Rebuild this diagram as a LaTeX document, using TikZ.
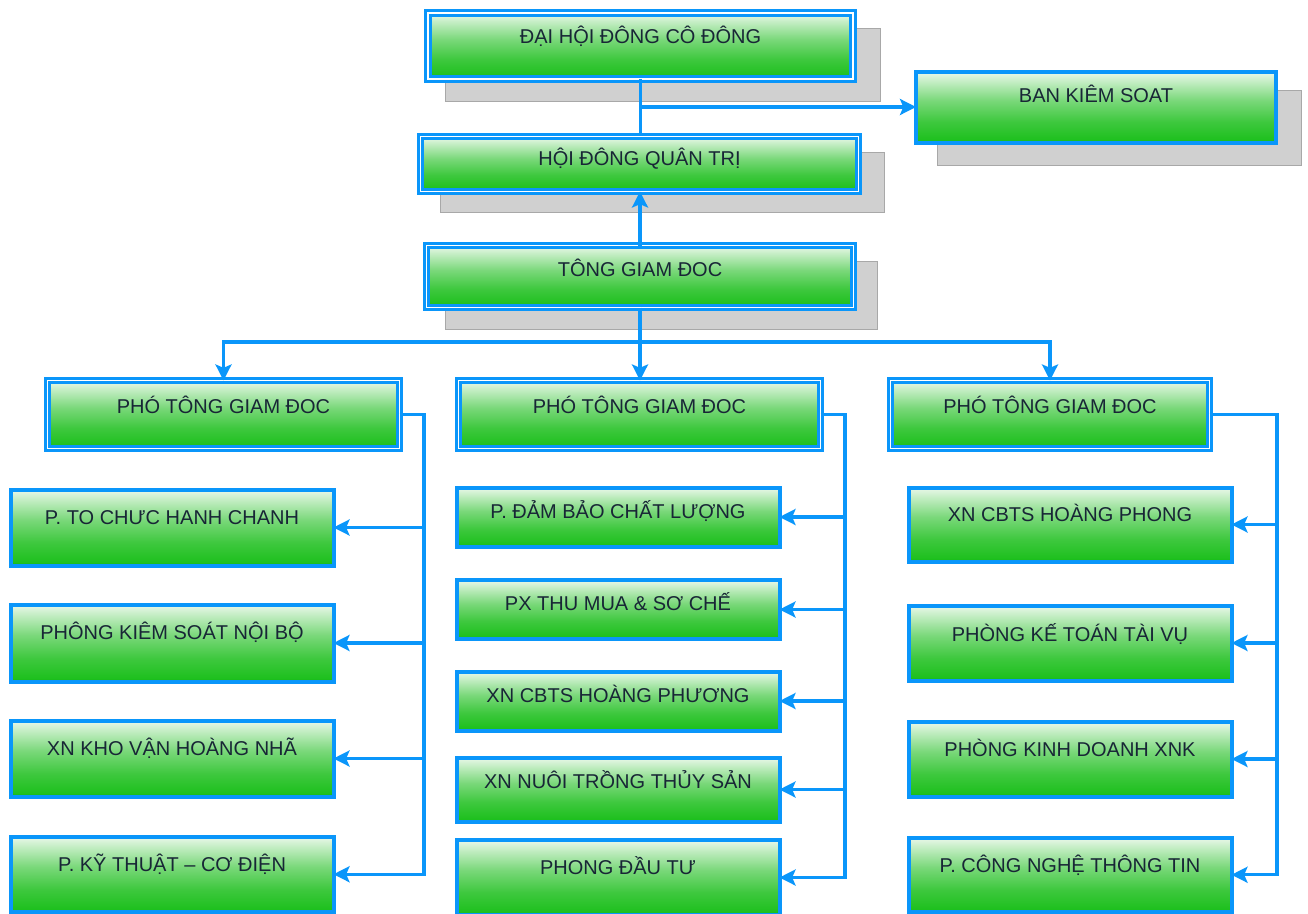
\documentclass[tikz,border=0pt]{standalone}
\usepackage{fontspec}
\setmainfont{Liberation Sans}
\usetikzlibrary{arrows.meta}
\definecolor{bblue}{RGB}{10,150,250}
\definecolor{tcol}{RGB}{24,38,54}
\definecolor{shgray}{RGB}{208,208,208}
\definecolor{shline}{RGB}{168,168,168}
\definecolor{gA}{RGB}{20,176,20}
\definecolor{gB}{RGB}{30,192,30}
\definecolor{gC}{RGB}{62,200,62}
\definecolor{gD}{RGB}{122,216,122}
\definecolor{gE}{RGB}{194,237,194}
\definecolor{gF}{RGB}{234,248,234}
\pgfdeclareverticalshading{greenbox}{100bp}{color(0bp)=(gA); color(25bp)=(gA); color(27bp)=(gB); color(40bp)=(gC); color(55bp)=(gD); color(68bp)=(gE); color(75bp)=(gF); color(100bp)=(gF)}
\newcommand\orgbox[8]{%
  \pgfmathsetmacro\obw{(#5-#3)*0.75}%
  \pgfmathsetmacro\obt{#7*0.75}%
  \pgfmathsetmacro\obd{(#6-#4-#7)*0.75}%
  \node[#2, minimum width=\obw pt, text height=\obt pt, text depth=\obd pt, anchor=north west] (#1) at (#3,#4) {#8};}
\tikzset{
  sbox/.style={draw=bblue, line width=3pt, shading=greenbox, inner sep=0pt, outer sep=0pt,
    font=\fontsize{15}{18}\selectfont, text=tcol},
  dbox/.style={sbox, line width=2.1pt, double=white, double distance=1.3pt},
  shadowbox/.style={fill=shgray, draw=shline, line width=0.6pt},
  cline/.style={draw=bblue, line width=2.6pt},
  arr/.style={cline, -{Stealth[length=12pt,width=12pt,inset=2.5pt]}}
}
\begin{document}
\begin{tikzpicture}[x=0.75pt, y=-0.75pt]
\useasboundingbox (0,0) rectangle (1308,913);
% shadows
\draw[shadowbox] (445,28) rectangle (880,101);
\draw[shadowbox] (937,90) rectangle (1301,165);
\draw[shadowbox] (440,152) rectangle (884,212);
\draw[shadowbox] (445,261) rectangle (877,329);
% top boxes
\orgbox{dh}{dbox}{428}{13}{853}{79}{31}{ĐẠI HỘI ĐÔNG CÔ ĐÔNG}
\orgbox{bks}{sbox}{916}{72}{1276}{143}{31}{BAN KIÊM SOAT}
\orgbox{hd}{dbox}{420.5}{136.5}{858.5}{191.5}{29.5}{HỘI ĐÔNG QUÂN TRỊ}
\orgbox{tg}{dbox}{426.5}{245.5}{853.5}{307.5}{30.5}{TÔNG GIAM ĐOC}
\orgbox{p1}{dbox}{47.5}{380.5}{399.5}{448.5}{32.5}{PHÓ TÔNG GIAM ĐOC}
\orgbox{p2}{dbox}{458.5}{380.5}{820.5}{448.5}{32.5}{PHÓ TÔNG GIAM ĐOC}
\orgbox{p3}{dbox}{890.5}{380.5}{1209.5}{448.5}{32.5}{PHÓ TÔNG GIAM ĐOC}
% left column
\orgbox{l1}{sbox}{10.5}{489.5}{333.5}{565.5}{34.5}{P. TO CHƯC HANH CHANH}
\orgbox{l2}{sbox}{10.5}{604.5}{333.5}{681.5}{34.5}{PHÔNG KIÊM SOÁT NỘI BỘ}
\orgbox{l3}{sbox}{10.5}{720.5}{333.5}{796.5}{34.5}{XN KHO VẬN HOÀNG NHÃ}
\orgbox{l4}{sbox}{10.5}{836.5}{333.5}{912}{34.5}{P. KỸ THUẬT – CƠ ĐIỆN}
% middle column
\orgbox{m1}{sbox}{456.5}{487.5}{779.5}{546.5}{30.5}{P. ĐẢM BẢO CHẤT LƯỢNG}
\orgbox{m2}{sbox}{456.5}{580}{779.5}{639}{30.5}{PX THU MUA \& SƠ CHẾ}
\orgbox{m3}{sbox}{456.5}{671.5}{779.5}{730.5}{30.5}{XN CBTS HOÀNG PHƯƠNG}
\orgbox{m4}{sbox}{456.5}{757.5}{779.5}{821.5}{31}{XN NUÔI TRỒNG THỦY SẢN}
\orgbox{m5}{sbox}{456.5}{840}{779.5}{915}{34}{PHONG ĐẦU TƯ}
% right column
\orgbox{r1}{sbox}{908.5}{487.5}{1231.5}{561.5}{33.5}{XN CBTS HOÀNG PHONG}
\orgbox{r2}{sbox}{908.5}{605.5}{1231.5}{680.5}{35.5}{PHÒNG KẾ TOÁN TÀI VỤ}
\orgbox{r3}{sbox}{908.5}{721.5}{1231.5}{796.5}{34.5}{PHÒNG KINH DOANH XNK}
\orgbox{r4}{sbox}{908.5}{837.5}{1231.5}{912}{34.5}{P. CÔNG NGHỆ THÔNG TIN}
% junctions
\coordinate (j1) at (640,107);
\coordinate (j2) at (640,342);
\coordinate (lb) at (424,414.5);
\coordinate (mb) at (845,414.5);
\coordinate (rb) at (1277,414.5);
% connectors
\draw[cline] (dh.south) -- (dh.south |- hd.north);
\draw[arr] (j1) -- (bks.west |- j1);
\draw[arr] (tg.north) -- (tg.north |- hd.south);
\draw[cline] (tg.south) -- (j2);
\draw[arr] (j2) -| (p1.north);
\draw[arr] (j2) -- (j2 |- p2.north);
\draw[arr] (j2) -| (p3.north);
% left bus
\draw[arr] (p1.east) -- (lb) -- (lb |- l4.east) -- (l4.east);
\draw[arr] (lb |- l1.east) -- (l1.east);
\draw[arr] (lb |- l2.east) -- (l2.east);
\draw[arr] (lb |- l3.east) -- (l3.east);
% middle bus
\draw[arr] (p2.east) -- (mb) -- (mb |- m5.east) -- (m5.east);
\draw[arr] (mb |- m1.east) -- (m1.east);
\draw[arr] (mb |- m2.east) -- (m2.east);
\draw[arr] (mb |- m3.east) -- (m3.east);
\draw[arr] (mb |- m4.east) -- (m4.east);
% right bus
\draw[arr] (p3.east) -- (rb) -- (rb |- r4.east) -- (r4.east);
\draw[arr] (rb |- r1.east) -- (r1.east);
\draw[arr] (rb |- r2.east) -- (r2.east);
\draw[arr] (rb |- r3.east) -- (r3.east);
\end{tikzpicture}
\end{document}
